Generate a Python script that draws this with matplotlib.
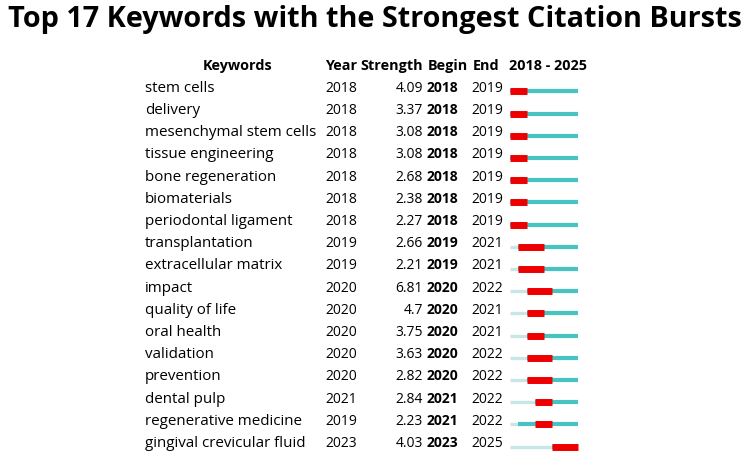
import matplotlib
matplotlib.use("Agg")
import matplotlib.pyplot as plt

keywords = ["stem cells", "delivery", "mesenchymal stem cells", "tissue engineering",
            "bone regeneration", "biomaterials", "periodontal ligament", "transplantation",
            "extracellular matrix", "impact", "quality of life", "oral health",
            "validation", "prevention", "dental pulp", "regenerative medicine",
            "gingival crevicular fluid"]
year = [2018, 2018, 2018, 2018, 2018, 2018, 2018, 2019, 2019, 2020, 2020, 2020,
        2020, 2020, 2021, 2019, 2023]
strength = ["4.09", "3.37", "3.08", "3.08", "2.68", "2.38", "2.27", "2.66", "2.21",
            "6.81", "4.7", "3.75", "3.63", "2.82", "2.84", "2.23", "4.03"]
begin = [2018, 2018, 2018, 2018, 2018, 2018, 2018, 2019, 2019, 2020, 2020, 2020,
         2020, 2020, 2021, 2021, 2023]
end = [2019, 2019, 2019, 2019, 2019, 2019, 2019, 2021, 2021, 2022, 2021, 2021,
       2022, 2022, 2022, 2022, 2025]
start_year, stop_year = 2018, 2025

plt.rcParams['font.family'] = ['Open Sans', 'DejaVu Sans']

fig = plt.figure(figsize=(7.49, 4.53), dpi=100)
ax = fig.add_axes([0, 0, 1, 1])
ax.set_xlim(0, 749)
ax.set_ylim(453, 0)
ax.axis("off")

# pixel layout
row0, dy = 86.8, 22.2
bx0, bx1 = 509.5, 577.5
bw = (bx1 - bx0) / (stop_year - start_year + 1)
fs_kw = 10.9   # keyword text
fs = 10.0      # numbers
fs_h = 10.4    # header
base = 5.0     # baseline offset from row centre

def yx(y):
    return bx0 + (y - start_year) * bw

ax.text(375, 20, "Top 17 Keywords with the Strongest Citation Bursts",
        ha="center", va="center", fontsize=20.8, fontweight="bold")

hy = 65 + base
ax.text(237.5, hy, "Keywords", ha="center", va="baseline", fontsize=fs_h, fontweight="bold")
ax.text(325, hy, "Year", ha="left", va="baseline", fontsize=fs_h, fontweight="bold")
ax.text(360, hy, "Strength", ha="left", va="baseline", fontsize=fs_h, fontweight="bold")
ax.text(428, hy, "Begin", ha="left", va="baseline", fontsize=fs_h, fontweight="bold")
ax.text(473, hy, "End", ha="left", va="baseline", fontsize=fs_h, fontweight="bold")
ax.text(509, hy, f"{start_year} - {stop_year}", ha="left", va="baseline",
        fontsize=fs_h, fontweight="bold")

for i, kw in enumerate(keywords):
    y = row0 + i * dy
    ax.text(145, y + base, kw, ha="left", va="baseline", fontsize=fs_kw)
    ax.text(325, y + base, str(year[i]), ha="left", va="baseline", fontsize=fs)
    ax.text(423, y + base, strength[i], ha="right", va="baseline", fontsize=fs)
    ax.text(427, y + base, str(begin[i]), ha="left", va="baseline", fontsize=fs,
            fontweight="bold")
    ax.text(471, y + base, str(end[i]), ha="left", va="baseline", fontsize=fs)
    by = y + 4.5
    # before the keyword appeared
    if year[i] > start_year:
        ax.plot([yx(start_year), yx(year[i])], [by, by], color="#c9e6e6",
                lw=2.4, solid_capstyle="butt")
    ax.plot([yx(year[i]), yx(stop_year + 1)], [by, by], color="#48c3c3",
            lw=3.0, solid_capstyle="butt")
    ax.plot([yx(begin[i]), yx(end[i] + 1)], [by, by], color="#ee0000",
            lw=5.0, solid_capstyle="butt")

fig.savefig("out.png", dpi=100)
